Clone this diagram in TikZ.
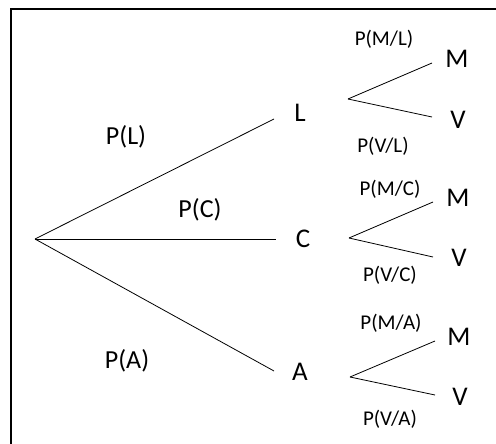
\documentclass[tikz,border=0pt]{standalone}
\usepackage{fontspec}
\setmainfont{Carlito}

\begin{document}
\begin{tikzpicture}[x=1pt,y=-1pt]
\tikzstyle{every node}+=[inner sep=0pt]
\tikzstyle{branch}=[black,line width=0.8pt]
\tikzstyle{event}=[font=\fontsize{27}{29}\selectfont]
\tikzstyle{prob}=[font=\fontsize{26}{28}\selectfont]
\tikzstyle{cond}=[font=\fontsize{21}{23}\selectfont]
\useasboundingbox (0,0) rectangle (496,444);
\draw [black,line width=1.5pt] (11,444) -- (11,9) -- (496,9);
% first stage
\coordinate (root) at (35,239);
\coordinate (Lin) at (274,119);
\coordinate (Cin) at (276,239);
\coordinate (Ain) at (274,371);
\draw [branch] (root) -- (Lin);
\draw [branch] (root) -- (Cin);
\draw [branch] (root) -- (Ain);
\node [event] (L) at (300,113) {L};
\node [event] (C) at (303,239) {C};
\node [event] (A) at (300,372) {A};
\node [prob] (pL) at (126,137) {P(L)};
\node [prob] (pC) at (200,210) {P(C)};
\node [prob] (pA) at (127,361) {P(A)};
% second stage, after L
\coordinate (Lout) at (348,99);
\coordinate (LMin) at (432,63);
\coordinate (LVin) at (432,117);
\draw [branch] (Lout) -- (LMin);
\draw [branch] (Lout) -- (LVin);
\node [event] (LM) at (457,59) {M};
\node [event] (LV) at (458,120) {V};
\node [cond] (pML) at (384,39) {P(M/L)};
\node [cond] (pVL) at (383,146) {P(V/L)};
% second stage, after C
\coordinate (Cout) at (349,238);
\coordinate (CMin) at (433,202);
\coordinate (CVin) at (433,257);
\draw [branch] (Cout) -- (CMin);
\draw [branch] (Cout) -- (CVin);
\node [event] (CM) at (458,198) {M};
\node [event] (CV) at (459,258) {V};
\node [cond] (pMC) at (390,189) {P(M/C)};
\node [cond] (pVC) at (390,275) {P(V/C)};
% second stage, after A
\coordinate (Aout) at (350,377);
\coordinate (AMin) at (435,341);
\coordinate (AVin) at (435,395);
\draw [branch] (Aout) -- (AMin);
\draw [branch] (Aout) -- (AVin);
\node [event] (AM) at (459,337) {M};
\node [event] (AV) at (460,397) {V};
\node [cond] (pMA) at (391,323) {P(M/A)};
\node [cond] (pVA) at (390,419) {P(V/A)};
\end{tikzpicture}
\end{document}
